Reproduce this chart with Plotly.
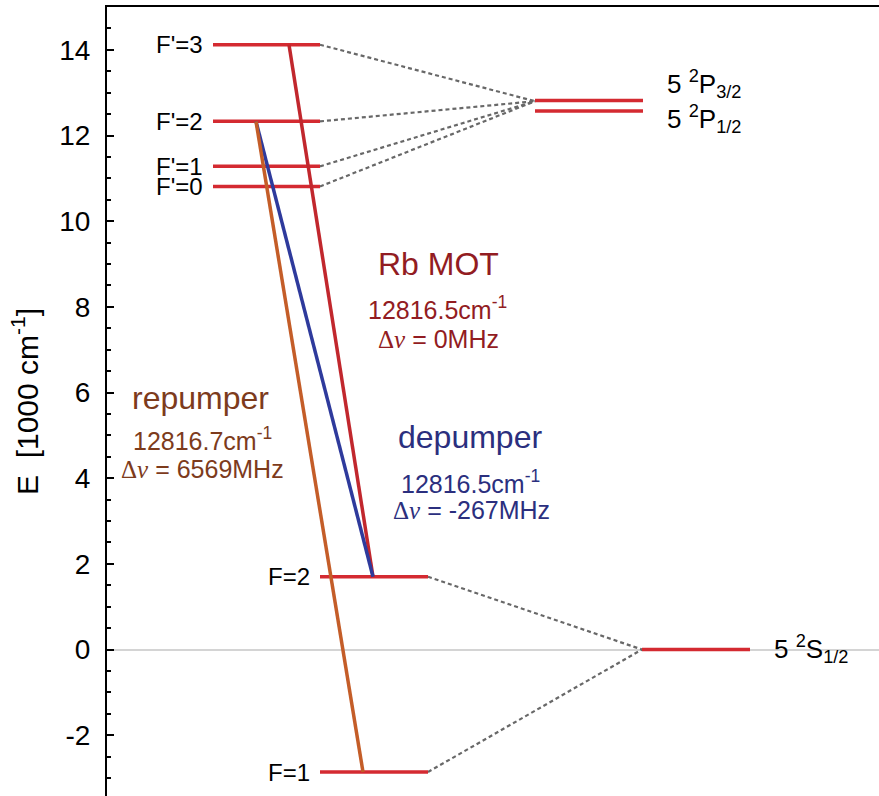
import plotly.graph_objects as go

# ---------------- data ----------------
# energy levels [1000 cm^-1] and their horizontal extent (layout units = px along x axis)
level_names = ["F'=3", "F'=2", "F'=1", "F'=0", "F=2", "F=1", "P32", "P12", "S12"]
level_E = [14.12, 12.33, 11.28, 10.81, 1.70, -2.86, 12.82, 12.57, 0.0]
level_x0 = [213, 213, 213, 213, 320, 320, 535, 535, 642]
level_x1 = [320, 320, 320, 320, 428, 428, 643, 643, 750]
level_label = ["F'=3", "F'=2", "F'=1", "F'=0", "F=2", "F=1", None, None, None]

# dashed connectors: (from level index, to point)
hfs_upper = [0, 1, 2, 3]
upper_join = (535, 12.80)
hfs_lower = [4, 5]
lower_join = (642, 0.0)

# transitions: name, from level, x_from, to level, x_to, colour
trans_names = ["Rb MOT", "depumper", "repumper"]
trans_from = [0, 1, 1]
trans_xfrom = [289, 256, 256]
trans_to = [4, 4, 5]
trans_xto = [373, 373, 363]
trans_colors = ["#c1272d", "#2e3a9c", "#c45d28"]

# y-axis ticks
tick_vals = [-2, 0, 2, 4, 6, 8, 10, 12, 14]
tick_text = ["-2", "0", "2", "4", "6", "8", "10", "12", "14"]

# ---------------- figure ----------------
LEVEL_RED = "#d42a31"
fig = go.Figure()

FONT = "Liberation Sans, Arial, sans-serif"
DASH = dict(color="#686868", width=2.2, dash="4px,3px")

# dashed connectors
for i in hfs_upper:
    fig.add_trace(go.Scatter(x=[level_x1[i], upper_join[0]], y=[level_E[i], upper_join[1]],
                             mode="lines", line=DASH, hoverinfo="skip", showlegend=False))
for i in hfs_lower:
    fig.add_trace(go.Scatter(x=[level_x1[i], lower_join[0]], y=[level_E[i], lower_join[1]],
                             mode="lines", line=DASH, hoverinfo="skip", showlegend=False))

# levels
for k in range(len(level_E)):
    fig.add_trace(go.Scatter(x=[level_x0[k], level_x1[k]], y=[level_E[k], level_E[k]],
                             mode="lines", line=dict(color=LEVEL_RED, width=3.5),
                             hoverinfo="skip", showlegend=False))

# transitions
for n in range(len(trans_names)):
    fig.add_trace(go.Scatter(x=[trans_xfrom[n], trans_xto[n]],
                             y=[level_E[trans_from[n]], level_E[trans_to[n]]],
                             mode="lines", line=dict(color=trans_colors[n], width=3.5),
                             name=trans_names[n], hoverinfo="skip", showlegend=False))

ann = []
# level labels
for k in range(len(level_E)):
    if level_label[k]:
        ann.append(dict(x=level_x0[k] - 8, y=level_E[k], text=level_label[k], showarrow=False,
                        xanchor="right", yanchor="middle", font=dict(size=24, color="black", family=FONT)))

ann.append(dict(x=665, y=13.21, text="5 <sup>2</sup>P<sub>3/2</sub>", showarrow=False,
                xanchor="left", yanchor="middle", font=dict(size=26, color="black", family=FONT)))
ann.append(dict(x=665, y=12.39, text="5 <sup>2</sup>P<sub>1/2</sub>", showarrow=False,
                xanchor="left", yanchor="middle", font=dict(size=26, color="black", family=FONT)))
ann.append(dict(x=772, y=0.02, text="5 <sup>2</sup>S<sub>1/2</sub>", showarrow=False,
                xanchor="left", yanchor="middle", font=dict(size=26, color="black", family=FONT)))

DN = '<span style="font-family:Liberation Serif, Times New Roman, serif">\u0394<i>\u03bd</i></span>'

text_blocks = [
    # (x, y, text, size, color)
    (438, 9.01, "Rb MOT", 32, "#921c22"),
    (437, 7.98, "12816.5cm<sup>-1</sup>", 25, "#921c22"),
    (438, 7.26, DN + " = 0MHz", 25, "#921c22"),
    (470, 4.97, "depumper", 32, "#2b2f7e"),
    (470, 3.90, "12816.5cm<sup>-1</sup>", 25, "#2b2f7e"),
    (471, 3.25, DN + " = -267MHz", 25, "#2b2f7e"),
    (200, 5.88, "repumper", 32, "#7d3b1c"),
    (202, 4.92, "12816.7cm<sup>-1</sup>", 25, "#7d3b1c"),
    (202, 4.21, DN + " = 6569MHz", 25, "#7d3b1c"),
]
for x, y, t, s, c in text_blocks:
    ann.append(dict(x=x, y=y, text=t, showarrow=False, xanchor="center", yanchor="middle",
                    font=dict(size=s, color=c, family=FONT)))

fig.update_layout(
    width=879, height=796,
    margin=dict(l=107, r=0, t=7, b=0),
    paper_bgcolor="white", plot_bgcolor="white",
    annotations=ann,
    showlegend=False,
    font=dict(family=FONT, color="black"),
)
fig.update_xaxes(range=[107, 879], side="top", showline=True, linecolor="black", linewidth=2,
                 showticklabels=False, ticks="", showgrid=False, zeroline=False)
fig.update_yaxes(range=[-3.42, 15.0], showline=True, linecolor="black", linewidth=2,
                 ticks="inside", ticklen=7, tickwidth=1.5, tickcolor="black",
                 tickmode="array", tickvals=tick_vals, ticktext=tick_text,
                 minor=dict(dtick=0.5, tick0=0, ticks="inside", ticklen=4, tickwidth=1.5, tickcolor="black"),
                 tickfont=dict(size=28, color="black", family=FONT), ticklabelstandoff=9,
                 showgrid=False, zeroline=True, zerolinecolor="#d4d4d4", zerolinewidth=2,
                 title=dict(text="E  [1000 cm<sup>-1</sup>]", font=dict(size=30, color="black", family=FONT),
                            standoff=12))

fig.write_html("out.html")
